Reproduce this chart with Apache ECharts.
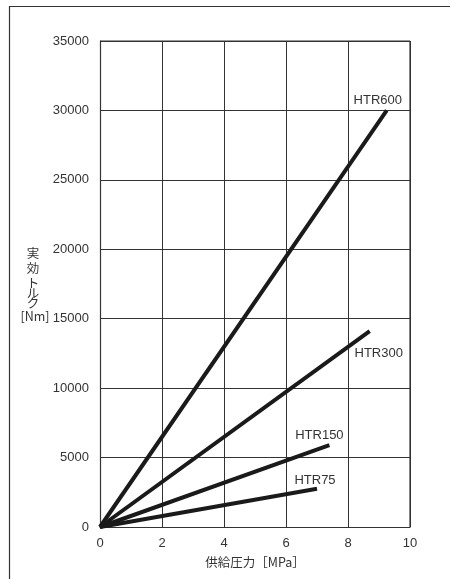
<!DOCTYPE html>
<html><head><meta charset="utf-8">
<script src="https://cdn.jsdelivr.net/npm/echarts@6/dist/echarts.min.js"></script>
<style>html,body{margin:0;padding:0;background:#fff}#c{width:450px;height:579px}</style>
</head><body><div id="c"></div>
<script>
const seriesNames = ['HTR600', 'HTR300', 'HTR150', 'HTR75'];
const endPressure = [9.25, 8.7, 7.4, 7.0];
const endTorque = [30000, 14100, 5900, 2750];
const xTicks = [0, 2, 4, 6, 8, 10];
const yTicks = [0, 5000, 10000, 15000, 20000, 25000, 30000, 35000];
const yNameChars = ['実', '効', 'ト', 'ル', 'ク'];

const labelPos = [
  {position: 'top', offset: [-9, 1]},
  {position: 'bottom', offset: [9, 11]},
  {position: 'top', offset: [-10, 2]},
  {position: 'top', offset: [-2, 3]}
];

const chart = echarts.init(document.getElementById('c'), null, {renderer: 'canvas'});
const font = '"Liberation Sans", Arial, sans-serif';
const cjkFont = '"Noto Sans CJK JP", sans-serif';

const series = seriesNames.map((n, i) => ({
  name: n,
  type: 'line',
  symbol: 'circle',
  symbolSize: 0.01,
  showSymbol: true,
  itemStyle: {color: '#1a1a1a'},
  lineStyle: {color: '#1a1a1a', width: 4, cap: 'butt'},
  data: [
    {value: [0, 0], label: {show: false}},
    {value: [endPressure[i], endTorque[i]],
     label: {show: true, formatter: n, position: labelPos[i].position, offset: labelPos[i].offset,
       color: '#333', fontSize: 13, fontFamily: font}}
  ],
  z: 5
}));

const yNameY = [253, 268.5, 283, 293.5, 303];
const graphics = [
  {type: 'polyline', shape: {points: [[9.5, 579], [9.5, 6.5], [450, 6.5]]},
   style: {stroke: '#333', lineWidth: 1.2, fill: null}, silent: true},
  {type: 'line', shape: {x1: 410, y1: 41, x2: 410, y2: 527},
   style: {stroke: '#333', lineWidth: 1.2}, silent: true, z: 10},
  {type: 'line', shape: {x1: 100, y1: 41, x2: 410, y2: 41},
   style: {stroke: '#333', lineWidth: 1.2}, silent: true, z: 10},
  {type: 'text', x: 35, y: 316, silent: true, style: {
    text: '[Nm]', textAlign: 'center', textVerticalAlign: 'middle',
    fill: '#333', font: '12.5px "Noto Sans CJK JP"'}}
];
yNameChars.forEach((ch, i) => graphics.push({
  type: 'text', x: 33, y: yNameY[i], silent: true, style: {
    text: ch, textAlign: 'center', textVerticalAlign: 'middle',
    fill: '#333', font: '12.5px "Noto Sans CJK JP"'}}));

chart.setOption({
  animation: false,
  backgroundColor: '#fff',
  grid: {left: 100, right: 40, top: 41, bottom: 52, show: false},
  xAxis: {
    type: 'value', min: xTicks[0], max: xTicks[xTicks.length - 1], interval: 2,
    axisLine: {show: true, lineStyle: {color: '#333', width: 1.2}},
    axisTick: {show: false},
    splitLine: {show: true, lineStyle: {color: '#333', width: 1}},
    axisLabel: {color: '#333', fontSize: 13, fontFamily: font, margin: 10},
    name: '供給圧力［MPa］', nameLocation: 'middle', nameGap: 29,
    nameTextStyle: {color: '#333', fontSize: 12.5, fontFamily: cjkFont}
  },
  yAxis: {
    type: 'value', min: yTicks[0], max: yTicks[yTicks.length - 1], interval: 5000,
    axisLine: {show: true, lineStyle: {color: '#333', width: 1.2}},
    axisTick: {show: false},
    splitLine: {show: true, lineStyle: {color: '#333', width: 1}},
    axisLabel: {color: '#333', fontSize: 13, fontFamily: font, margin: 11,
      formatter: v => String(v)}
  },
  graphic: graphics,
  series: series
});
</script></body></html>
